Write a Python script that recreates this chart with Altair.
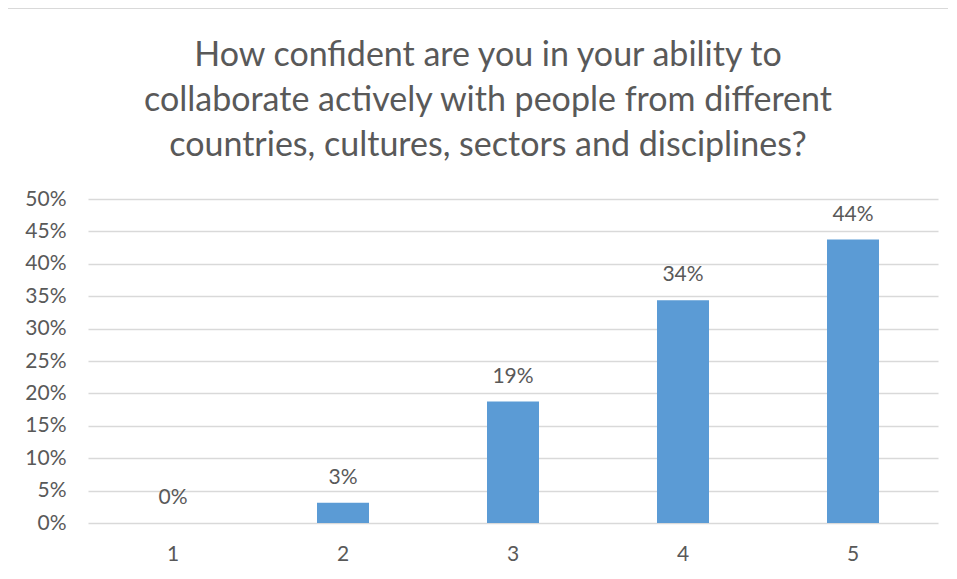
import altair as alt
import pandas as pd

categories = ["1", "2", "3", "4", "5"]
values = [0.0, 0.03125, 0.1875, 0.34375, 0.4375]
labels = ["0%", "3%", "19%", "34%", "44%"]
y_ticks = [0, 0.05, 0.1, 0.15, 0.2, 0.25, 0.3, 0.35, 0.4, 0.45, 0.5]
title_lines = ["How confident are you in your ability to",
               "collaborate actively with people from different",
               "countries, cultures, sectors and disciplines?"]

df = pd.DataFrame({"cat": categories, "val": values, "lab": labels})

FONT = "Lato"
GREY = "#595959"

x_enc = alt.X("cat:N", sort=categories, title=None,
              scale=alt.Scale(paddingInner=0, paddingOuter=0),
              axis=alt.Axis(labelAngle=0, labelFont=FONT, labelFontSize=21,
                            labelColor=GREY, ticks=False, domain=False,
                            labelPadding=20, grid=False))
y_enc = alt.Y("val:Q", title=None,
              scale=alt.Scale(domain=[0, 0.5], nice=False),
              axis=alt.Axis(format=".0%", values=y_ticks,
                            labelFont=FONT, labelFontSize=21, labelColor=GREY,
                            labelOverlap=False,
                            ticks=False, domain=False, labelPadding=22,
                            grid=True, gridColor="#D9D9D9", gridWidth=1.5))

base = alt.Chart(df)

bars = base.mark_bar(color="#5B9BD5", size=52).encode(x=x_enc, y=y_enc)

text = base.mark_text(font=FONT, fontSize=21, color=GREY, baseline="bottom", dy=-15).encode(
    x=x_enc, y=y_enc, text="lab:N",
)

one = pd.DataFrame({"k": [0]})
title = alt.Chart(one).mark_text(font=FONT, fontSize=34, color=GREY, align="center",
                                 baseline="alphabetic", lineHeight=45).encode(
    x=alt.value(400), y=alt.value(-133), text=alt.value(title_lines)
)

border = alt.Chart(one).mark_rule(color="#D9D9D9", strokeWidth=2).encode(
    x=alt.value(-81), x2=alt.value(1000), y=alt.value(-191)
)
border2 = alt.Chart(one).mark_rule(color="#D9D9D9", strokeWidth=2).encode(
    x=alt.value(-81), y=alt.value(-191), y2=alt.value(500)
)

chart = alt.layer(border, border2, bars, text, title).properties(
    width=850, height=324,
    autosize=alt.AutoSizeParams(type="none"),
    padding={"left": 80, "top": 191, "right": 10, "bottom": 40},
).configure_view(stroke=None)

chart.save("out.html", embed_options={"renderer": "svg", "actions": False})
